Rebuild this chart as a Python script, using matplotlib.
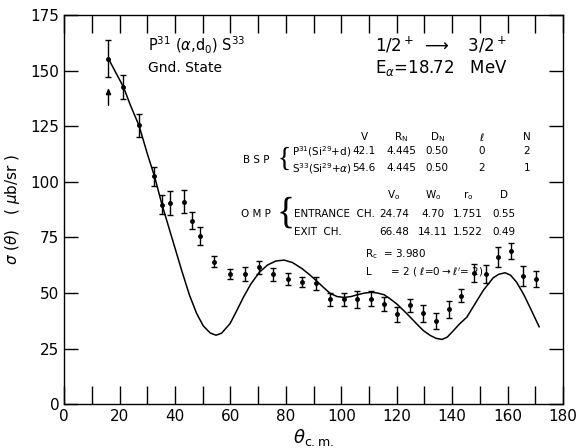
import matplotlib
matplotlib.use("Agg")
import matplotlib.pyplot as plt
import numpy as np

# measured cross sections (deg c.m., microbarn/sr)
theta = [16, 21.4, 27, 32.6, 35.3, 38.1, 43.4, 46.1, 48.9, 54.1, 59.9, 65.2,
         70.4, 75.5, 80.9, 85.9, 90.7, 96, 101, 105.8, 110.7, 115.5, 120.1,
         124.9, 129.6, 134.3, 138.7, 143.2, 147.9, 152.4, 156.7, 161.2, 165.4, 170.2]
sigma = [155.4, 142.7, 125.4, 102.5, 89.8, 90.5, 91.0, 82.6, 75.5, 64.0, 58.5, 58.5,
         61.5, 58.5, 56.2, 54.9, 54.3, 47.1, 47.1, 47.1, 47.5, 45.0, 40.5,
         44.5, 40.8, 37.6, 42.6, 48.7, 59.0, 58.5, 66.0, 68.9, 57.6, 56.2]
err = [8.3, 5.5, 5.0, 4.4, 4.3, 5.2, 5.2, 4.0, 4.0, 2.5, 2.3, 3.0, 2.8, 2.9, 2.6, 2.3, 2.8,
       2.9, 3.0, 3.8, 3.2, 3.0, 3.4, 2.9, 4.0, 3.6, 3.8, 2.9, 4.2, 4.1, 4.5, 3.5, 4.5, 3.6]

# DWBA curve
th_fit = [16, 18.5, 21.4, 24, 27, 30, 32.6, 35.3, 38.8, 42.4, 45.2, 47.8, 50.2, 52.7,
          54.8, 56.8, 59.9, 62.3, 64.7, 67.3, 70.4, 73.4, 76.4, 79.4, 82.4, 85.9,
          88.4, 90.7, 93.5, 96, 98.5, 101, 103.5, 105.8, 108.5, 111, 113, 115.5, 117.6,
          120.1, 122.6, 124.9, 127.6, 129.6, 132.1, 134.2, 136.3, 138.2, 139.9, 142.7,
          145.3, 148.2, 151.2, 154.8, 156.8, 159.1, 161.1, 163.3, 165.8, 168.1, 171.4]
sig_fit = [155.4, 149.5, 142.7, 134.2, 125.4, 112.7, 102.5, 89.8, 75.2, 60.2, 49.1, 40.8,
           35.2, 32.0, 31.0, 31.9, 36.3, 42.1, 48.1, 53.9, 59.3, 62.6, 64.4, 64.8, 63.7,
           60.9, 58.4, 55.9, 52.6, 49.8, 48.4, 48.0, 48.4, 49.2, 50.0, 50.3, 50.0, 49.2,
           47.4, 45.0, 42.0, 39.1, 35.6, 33.1, 30.9, 29.6, 29.1, 30.1, 32.3, 36.1,
           39.1, 45.0, 51.1, 56.8, 58.4, 59.1, 58.0, 54.8, 49.4, 43.5, 34.8]

# parameter table
hdr_bsp = ["V", r"R$_{\rm N}$", r"D$_{\rm N}$", r"$\ell$", "N"]
rows_bsp = [r"P$^{31}$(Si$^{29}$+d)", r"S$^{33}$(Si$^{29}$+$\alpha$)"]
vals_bsp = [["42.1", "4.445", "0.50", "0", "2"],
            ["54.6", "4.445", "0.50", "2", "1"]]
hdr_omp = [r"V$_{\rm o}$", r"W$_{\rm o}$", r"r$_{\rm o}$", "D"]
rows_omp = ["ENTRANCE  CH.", "EXIT  CH."]
vals_omp = [["24.74", "4.70", "1.751", "0.55"],
            ["66.48", "14.11", "1.522", "0.49"]]

fig = plt.figure(figsize=(5.78, 4.48), dpi=100)
ax = fig.add_axes([0.111, 0.098, 0.863, 0.868])

ax.plot(th_fit, sig_fit, color="black", lw=1.1)
ax.errorbar(theta, sigma, yerr=err, fmt="o", ms=2.5, color="black",
            ecolor="black", elinewidth=1.0, capsize=2.5, capthick=1.0)
# lower point marked with an arrow
ax.annotate("", xy=(16, 143.5), xytext=(16, 133.2),
            arrowprops=dict(arrowstyle="-|>,head_width=0.15,head_length=0.35",
                            color="black", lw=1.0))

ax.set_xlim(0, 180)
ax.set_ylim(0, 175)
ax.set_xticks(np.arange(0, 181, 20))
ax.set_xticks(np.arange(10, 180, 20), minor=True)
ax.set_yticks(np.arange(0, 176, 25))
ax.tick_params(which="both", direction="in", top=True, right=True, labelsize=11)
ax.tick_params(axis="x", which="both", length=13, width=1.0)
ax.tick_params(axis="y", which="both", length=10, width=1.0)
for s in ax.spines.values():
    s.set_linewidth(1.0)

ax.set_xlabel(r"$\theta_{\rm c.m.}$", fontsize=13, labelpad=2)
ax.set_ylabel(r"$\sigma$ $(\theta)$   ( $\mu$b/sr )", fontsize=11, labelpad=6)

def px(x, y):
    # pixel position of the original picture -> data coords
    return (x - 64) / 2.772, (404 - y) / 2.224

fs = 10
ax.text(*px(148, 45), r"P$^{31}$ ($\alpha$,d$_0$) S$^{33}$", fontsize=fs + 0.5, va="center")
ax.text(*px(148, 68), "Gnd. State", fontsize=fs, va="center")
ax.text(*px(375, 45), r"1/2$^+$ $\longrightarrow$   3/2$^+$", fontsize=12, va="center")
ax.text(*px(375, 68), r"E$_\alpha$=18.72   MeV", fontsize=12, va="center")

ts = 7.5
ax.text(*px(243, 160), "B S P", fontsize=ts, va="center")
ax.text(*px(284, 159), "{", fontsize=20, ha="center", va="center",
        family="Liberation Serif", fontweight="light")
ax.text(*px(241, 214), "O M P", fontsize=ts, va="center")
ax.text(*px(285, 213), "{", fontsize=27, ha="center", va="center",
        family="Liberation Serif", fontweight="light")

col1 = [364, 401, 437, 482, 527]
for h, c in zip(hdr_bsp, col1):
    ax.text(*px(c, 137), h, fontsize=ts, ha="center", va="center")
for name, r, yy in zip(rows_bsp, vals_bsp, [151, 168]):
    ax.text(*px(292, yy), name, fontsize=ts, va="center")
    for v, c in zip(r, col1):
        ax.text(*px(c, yy), v, fontsize=ts, ha="center", va="center")

col2 = [394, 433, 468, 504]
for h, c in zip(hdr_omp, col2):
    ax.text(*px(c, 195), h, fontsize=ts, ha="center", va="center")
for name, r, yy in zip(rows_omp, vals_omp, [214, 232]):
    ax.text(*px(294, yy), name, fontsize=ts, va="center")
    for v, c in zip(r, col2):
        ax.text(*px(c, yy), v, fontsize=ts, ha="center", va="center")

ax.text(*px(365, 254), r"R$_{\rm c}$  = 3.980", fontsize=ts, va="center")
ax.text(*px(365, 272), r"L      = 2 ( $\ell$=0$\rightarrow$$\ell'$= 2)", fontsize=ts, va="center")

fig.savefig("out.png", dpi=100)
